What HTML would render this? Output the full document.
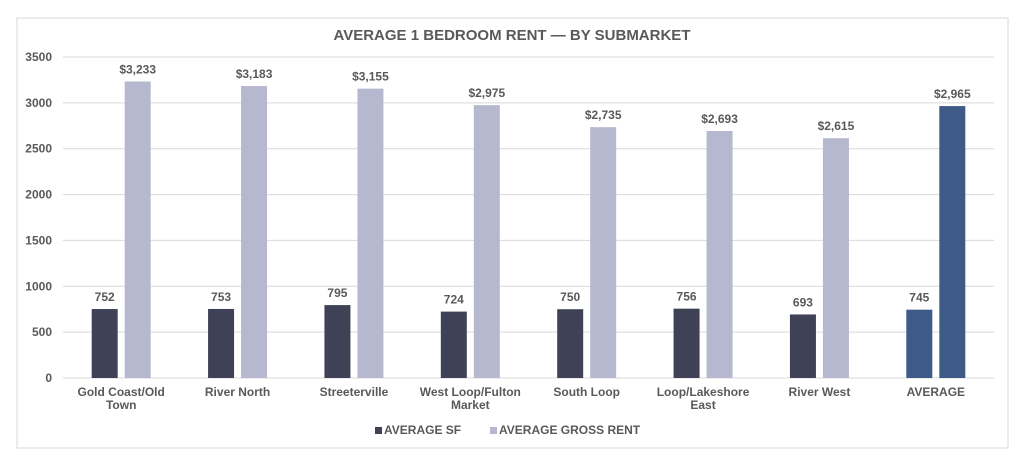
<!DOCTYPE html>
<html><head><meta charset="utf-8"><style>
body{margin:0;background:#fff;font-family:"Liberation Sans",Arial,sans-serif}
svg text{font-family:"Liberation Sans",Arial,sans-serif;font-weight:bold;fill:#595959}
</style></head><body>
<svg id="c" width="1024" height="467">
<rect x="17" y="18" width="991" height="430" fill="#fff" stroke="#d9d9d9"/>
<text x="512" y="40" text-anchor="middle" font-size="15">AVERAGE 1 BEDROOM RENT — BY SUBMARKET</text>
<g id="grid"></g><g id="bars"></g>
<g>
<rect x="375" y="427" width="7" height="7" fill="#3f4257"/>
<text x="384" y="434" font-size="12">AVERAGE SF</text>
<rect x="490" y="427" width="7" height="7" fill="#b5b8cf"/>
<text x="499" y="434" font-size="12">AVERAGE GROSS RENT</text>
</g>
</svg>
<script>
const categories=[["Gold Coast/Old","Town"],["River North"],["Streeterville"],["West Loop/Fulton","Market"],["South Loop"],["Loop/Lakeshore","East"],["River West"],["AVERAGE"]];
const sfValues=[752,753,795,724,750,756,693,745];
const rentValues=[3233,3183,3155,2975,2735,2693,2615,2965];
const rentLabels=["$3,233","$3,183","$3,155","$2,975","$2,735","$2,693","$2,615","$2,965"];
const yTicks=[0,500,1000,1500,2000,2500,3000,3500];
const x0=63,x1=994,yb=378,yt=57,ymax=3500;
const y=v=>yb-(v/ymax)*(yb-yt);
const gw=(x1-x0)/categories.length;
const NS="http://www.w3.org/2000/svg";
function mk(t,a,p){const e=document.createElementNS(NS,t);for(const k in a)e.setAttribute(k,a[k]);p.appendChild(e);return e;}
const grid=document.getElementById('grid'),bars=document.getElementById('bars');
yTicks.forEach(v=>{
 const l=mk('line',{x1:x0,x2:x1,y1:y(v),y2:y(v),stroke:'#d9d9d9'},grid);
 
 
 const t=mk('text',{x:52,y:y(v)+4,'text-anchor':'end','font-size':12},grid);t.textContent=v;
 
 
});
categories.forEach((c,i)=>{
 const cx=x0+gw*(i+0.5),bw=26,avg=i===categories.length-1;
 const b1=mk('rect',{x:cx-bw-3.5,y:y(sfValues[i]),width:bw,height:yb-y(sfValues[i]),fill:avg?'#3e5a87':'#3f4257'},bars);
 
 
 const b2=mk('rect',{x:cx+3.5,y:y(rentValues[i]),width:bw,height:yb-y(rentValues[i]),fill:avg?'#3e5a87':'#b5b8cf'},bars);
 
 
 const t1=mk('text',{x:cx-bw/2-3.5,y:y(sfValues[i])-8,'text-anchor':'middle','font-size':12},bars);t1.textContent=sfValues[i];
 
 
 const t2=mk('text',{x:cx+bw/2+3.5,y:y(rentValues[i])-8,'text-anchor':'middle','font-size':12},bars);t2.textContent=rentLabels[i];
 
 
 c.forEach((ln,j)=>{const t=mk('text',{x:cx,y:396+j*13,'text-anchor':'middle','font-size':12},bars);t.textContent=ln;
 
 });
});
</script>
</body></html>
